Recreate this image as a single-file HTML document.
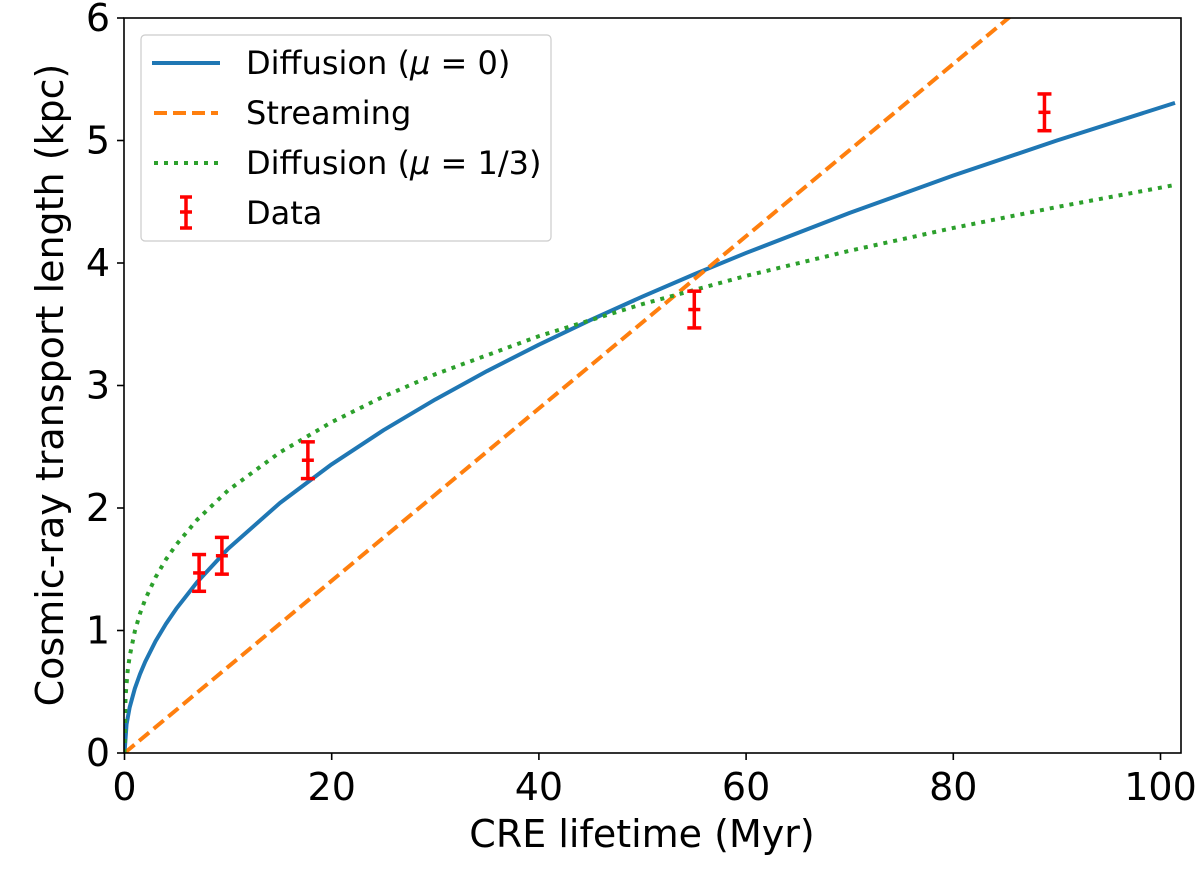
<!DOCTYPE html>
<html><head><meta charset="utf-8"><style>
body{margin:0;background:#fff}
svg text{font-family:"DejaVu Sans","Liberation Sans",sans-serif;fill:#000}
</style></head><body>
<svg id="chart" width="1200" height="865" xmlns="http://www.w3.org/2000/svg">
<defs><clipPath id="plotclip"><rect x="124" y="18" width="1057" height="735"/></clipPath></defs>
<g id="series" clip-path="url(#plotclip)"></g>
<g id="errs"></g>
<rect x="124" y="18" width="1057" height="735" fill="none" stroke="#000" stroke-width="1.6"/>
<g id="axes"></g>
<text x="642" y="847" font-size="38" text-anchor="middle">CRE lifetime (Myr)</text>
<text transform="translate(63,385) rotate(-90)" font-size="38" text-anchor="middle">Cosmic-ray transport length (kpc)</text>
<g>
<rect x="141" y="35" width="410" height="206" rx="4" fill="#fff" fill-opacity="0.8" stroke="#ccc" stroke-width="1.2"/>
<line x1="152" y1="63" x2="220" y2="63" stroke="#1f77b4" stroke-width="4"/>
<text x="246" y="74" font-size="32">Diffusion (<tspan font-style="italic">μ</tspan> = 0)</text>
<line x1="154" y1="113" x2="218" y2="113" stroke="#ff7f0e" stroke-width="4" stroke-dasharray="13,6"/>
<text x="246" y="124" font-size="32">Streaming</text>
<line x1="154" y1="163" x2="218" y2="163" stroke="#2ca02c" stroke-width="4" stroke-dasharray="4,6"/>
<text x="246" y="174" font-size="32">Diffusion (<tspan font-style="italic">μ</tspan> = 1/3)</text>
<g stroke="red" stroke-width="3.5"><line x1="186" y1="197" x2="186" y2="228"/><line x1="180" y1="197" x2="192" y2="197"/><line x1="180" y1="228" x2="192" y2="228"/><line x1="180" y1="212" x2="192" y2="212"/></g>
<text x="246" y="224" font-size="32">Data</text>
</g>
</svg>
<script>
const xTicks=[0,20,40,60,80,100];
const yTicks=[0,1,2,3,4,5,6];
const diffT=[0,0.2,0.5,1,1.5,2,3,4,5,7,10,15,20,25,30,35,40,45,50,55,60,70,80,90,101.4];
const diffMu0=[0,0.236,0.373,0.527,0.645,0.745,0.913,1.054,1.178,1.394,1.667,2.041,2.357,2.635,2.886,3.118,3.333,3.535,3.726,3.908,4.082,4.409,4.714,5.0,5.307];
const diffT13=[0,0.1,0.3,0.5,1,1.5,2,3,4,5,7,10,15,20,25,30,40,50,60,70,80,90,101.4];
const diffMu13=[0,0.462,0.666,0.79,0.995,1.139,1.254,1.435,1.58,1.701,1.903,2.144,2.454,2.701,2.91,3.092,3.403,3.665,3.895,4.1,4.286,4.457,4.637];
const streamT=[0,101.4];
const streamL=[0,7.13];
const dataT=[7.2,9.4,17.7,55,88.8];
const dataL=[1.47,1.61,2.39,3.62,5.23];
const dataErr=[0.15,0.15,0.15,0.15,0.15];
const NS="http://www.w3.org/2000/svg";
const X=v=>124.5+v*10.36, Y=v=>753-v*122.5;
function mk(t,a,p){const e=document.createElementNS(NS,t);for(const k in a)e.setAttribute(k,a[k]);p.appendChild(e);return e;}
const ax=document.getElementById('axes');
xTicks.forEach(v=>{
 const l=mk('line',{x1:X(v),x2:X(v),y1:753,y2:760,stroke:'#000','stroke-width':1.6},ax);
 
 
 const t=mk('text',{x:X(v),y:800,'font-size':38,'text-anchor':'middle'},ax);t.textContent=v;
 
 
});
yTicks.forEach(v=>{
 const l=mk('line',{x1:117,x2:124,y1:Y(v),y2:Y(v),stroke:'#000','stroke-width':1.6},ax);
 
 
 const t=mk('text',{x:110,y:Y(v)+13,'font-size':38,'text-anchor':'end'},ax);t.textContent=v;
 
 
});
const sg=document.getElementById('series');
function line(xs,ys,attrs,name){
 const p=mk('polyline',Object.assign({points:xs.map((x,i)=>X(x)+','+Y(ys[i])).join(' '),fill:'none','stroke-width':4,'stroke-linejoin':'round'},attrs),sg);
 
 
}
line(diffT,diffMu0,{stroke:'#1f77b4'},'diffusion-mu0-line');
line(streamT,streamL,{stroke:'#ff7f0e','stroke-dasharray':'13,6'},'streaming-line');
line(diffT13,diffMu13,{stroke:'#2ca02c','stroke-dasharray':'4,6'},'diffusion-mu13-line');
const eg=document.getElementById('errs');
dataT.forEach((t,i)=>{
 const g=mk('g',{stroke:'red','stroke-width':3.5},eg);
 
 
 const x=X(t),yc=Y(dataL[i]),y1=Y(dataL[i]-dataErr[i]),y2=Y(dataL[i]+dataErr[i]);
 mk('line',{x1:x,x2:x,y1:y1,y2:y2},g);
 mk('line',{x1:x-7,x2:x+7,y1:y1,y2:y1},g);
 mk('line',{x1:x-7,x2:x+7,y1:y2,y2:y2},g);
 mk('line',{x1:x-6,x2:x+6,y1:yc,y2:yc},g);
});
</script>
</body></html>
